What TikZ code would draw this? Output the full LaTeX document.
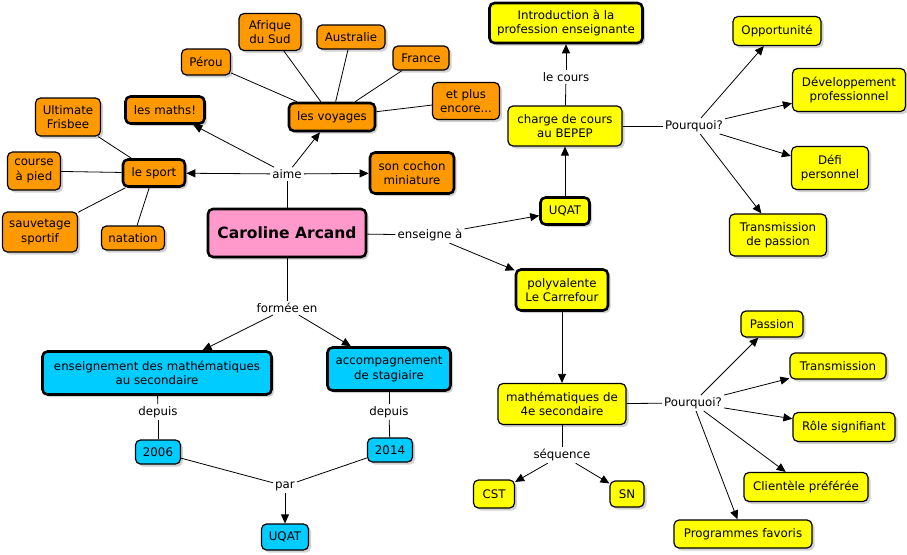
\documentclass[tikz,border=0pt]{standalone}
\usepackage{fontspec}
\setmainfont{DejaVu Sans}
\usetikzlibrary{arrows.meta,shadows}
\definecolor{cor}{RGB}{255,153,0}
\definecolor{cye}{RGB}{255,255,0}
\definecolor{cbl}{RGB}{0,204,255}
\definecolor{cpk}{RGB}{255,153,204}
\tikzset{
  c/.style={draw=black,line width=1.2pt,rounded corners=5pt,align=center,inner sep=1pt,
    font=\fontsize{11.8}{14.5}\selectfont,
    drop shadow={shadow xshift=2.5pt,shadow yshift=-2.5pt,fill=black!35,opacity=.5}},
  thk/.style={line width=2.6pt},
  orn/.style={fill=cor}, yel/.style={fill=cye}, blu/.style={fill=cbl}, pnk/.style={fill=cpk},
  wh/.style 2 args={minimum width=#1pt,minimum height=#2pt},
  lbl/.style={inner sep=2pt,font=\fontsize{11.8}{14}\selectfont},
  ln/.style={line width=0.8pt},
  arr/.style={ln,-{Triangle[length=9pt,width=8pt]}}
}
\begin{document}
\begin{tikzpicture}[x=1pt,y=-1pt]
\useasboundingbox (0,0) rectangle (907,554);
% orange
\node[c,orn,wh={49}{26}] (peru) at (206,62) {Pérou};
\node[c,orn,wh={62}{37}] (afr) at (270,32) {Afrique\\du Sud};
\node[c,orn,wh={68}{24}] (aus) at (351,37) {Australie};
\node[c,orn,wh={56}{24}] (fra) at (421,58) {France};
\node[c,orn,wh={67}{37}] (etplus) at (466,101) {et plus\\encore...};
\node[c,orn,thk,wh={86}{28}] (voy) at (332,117) {les voyages};
\node[c,orn,thk,wh={79}{27}] (maths) at (165,110) {les maths!};
\node[c,orn,wh={65}{38}] (ult) at (68,117) {Ultimate\\Frisbee};
\node[c,orn,wh={53}{38}] (course) at (34,171) {course\\à pied};
\node[c,orn,thk,wh={62}{27}] (sport) at (154,173) {le sport};
\node[c,orn,wh={75}{40}] (sauv) at (40,232) {sauvetage\\sportif};
\node[c,orn,wh={63}{24}] (nat) at (133,238) {natation};
\node[c,orn,thk,wh={84}{41}] (cochon) at (412,173) {son cochon\\miniature};
\node[lbl] (aime) at (287,174) {aime};
\node[c,pnk,thk,wh={158}{48},font=\fontsize{15.5}{18}\selectfont\bfseries] (ca) at (287,233) {Caroline Arcand};
\node[lbl] (ens) at (430,235) {enseigne à};
% yellow top
\node[c,yel,thk,wh={49}{27}] (uqat1) at (565,211) {UQAT};
\node[c,yel,thk,wh={92}{41}] (poly) at (562,290) {polyvalente\\Le Carrefour};
\node[c,yel,wh={114}{40}] (charge) at (565,126) {charge de cours\\au BEPEP};
\node[c,yel,thk,wh={153}{40}] (intro) at (566,23) {Introduction à la\\profession enseignante};
\node[lbl] (cours) at (566,77) {le cours};
\node[lbl] (pq1) at (694,126) {Pourquoi?};
\node[c,yel,wh={88}{29}] (opp) at (777,31) {Opportunité};
\node[c,yel,wh={113}{43}] (dev) at (849,90) {Développement\\professionnel};
\node[c,yel,wh={77}{43}] (defi) at (830,168) {Défi\\personnel};
\node[c,yel,wh={97}{42}] (tdp) at (778,235) {Transmission\\de passion};
% yellow bottom
\node[c,yel,wh={128}{41}] (m4) at (562,404) {mathématiques de\\4e secondaire};
\node[lbl] (pq2) at (693,403) {Pourquoi?};
\node[c,yel,wh={62}{26}] (pas) at (772,324) {Passion};
\node[c,yel,wh={96}{26}] (trans) at (838,366) {Transmission};
\node[c,yel,wh={102}{29}] (role) at (844,427) {Rôle signifiant};
\node[c,yel,wh={124}{29}] (cli) at (806,487) {Clientèle préférée};
\node[c,yel,wh={138}{28}] (prog) at (743,534) {Programmes favoris};
\node[lbl] (seq) at (562,455) {séquence};
\node[c,yel,wh={41}{28}] (cst) at (494,494) {CST};
\node[c,yel,wh={34}{26}] (sn) at (627,494) {SN};
% blue
\node[lbl] (form) at (287,308) {formée en};
\node[c,blu,thk,wh={229}{43}] (ens2) at (157,373) {enseignement des mathématiques\\au secondaire};
\node[c,blu,thk,wh={123}{43}] (acc) at (389,369) {accompagnement\\de stagiaire};
\node[lbl] (dep1) at (158,412) {depuis};
\node[lbl] (dep2) at (389,412) {depuis};
\node[c,blu,wh={45}{24}] (y2006) at (158,452) {2006};
\node[c,blu,wh={45}{24}] (y2014) at (390,450) {2014};
\node[lbl] (par) at (285,486) {par};
\node[c,blu,wh={47}{26}] (uqat2) at (285,537) {UQAT};
% connectors
\draw[ln] (peru)--(voy); \draw[ln] (afr)--(voy); \draw[ln] (aus)--(voy);
\draw[ln] (fra)--(voy); \draw[ln] (etplus)--(voy);
\draw[ln] (ult)--(sport); \draw[ln] (course)--(sport); \draw[ln] (sauv)--(sport); \draw[ln] (nat)--(sport);
\draw[ln] (ca)--(aime);
\draw[arr] (aime)--(sport); \draw[arr] (aime)--(maths);
\draw[arr] (aime)--(voy); \draw[arr] (aime)--(cochon);
\draw[ln] (ca)--(ens);
\draw[arr] (ens)--(uqat1); \draw[arr] (ens)--(poly);
\draw[arr] (uqat1)--(charge);
\draw[ln] (charge)--(cours); \draw[arr] (cours)--(intro);
\draw[ln] (charge)--(pq1);
\draw[arr] (pq1)--(opp); \draw[arr] (pq1)--(dev); \draw[arr] (pq1)--(defi); \draw[arr] (pq1)--(tdp);
\draw[arr] (poly)--(m4);
\draw[ln] (m4)--(pq2);
\draw[arr] (pq2)--(pas); \draw[arr] (pq2)--(trans); \draw[arr] (pq2)--(role);
\draw[arr] (pq2)--(cli); \draw[arr] (pq2)--(prog);
\draw[ln] (m4)--(seq); \draw[arr] (seq)--(cst); \draw[arr] (seq)--(sn);
\draw[ln] (ca)--(form);
\draw[arr] (form)--(ens2); \draw[arr] (form)--(acc);
\draw[ln] (ens2)--(dep1); \draw[ln] (dep1)--(y2006);
\draw[ln] (acc)--(dep2); \draw[ln] (dep2)--(y2014);
\draw[ln] (y2006)--(par); \draw[ln] (y2014)--(par);
\draw[arr] (par)--(uqat2);
\end{tikzpicture}
\end{document}
